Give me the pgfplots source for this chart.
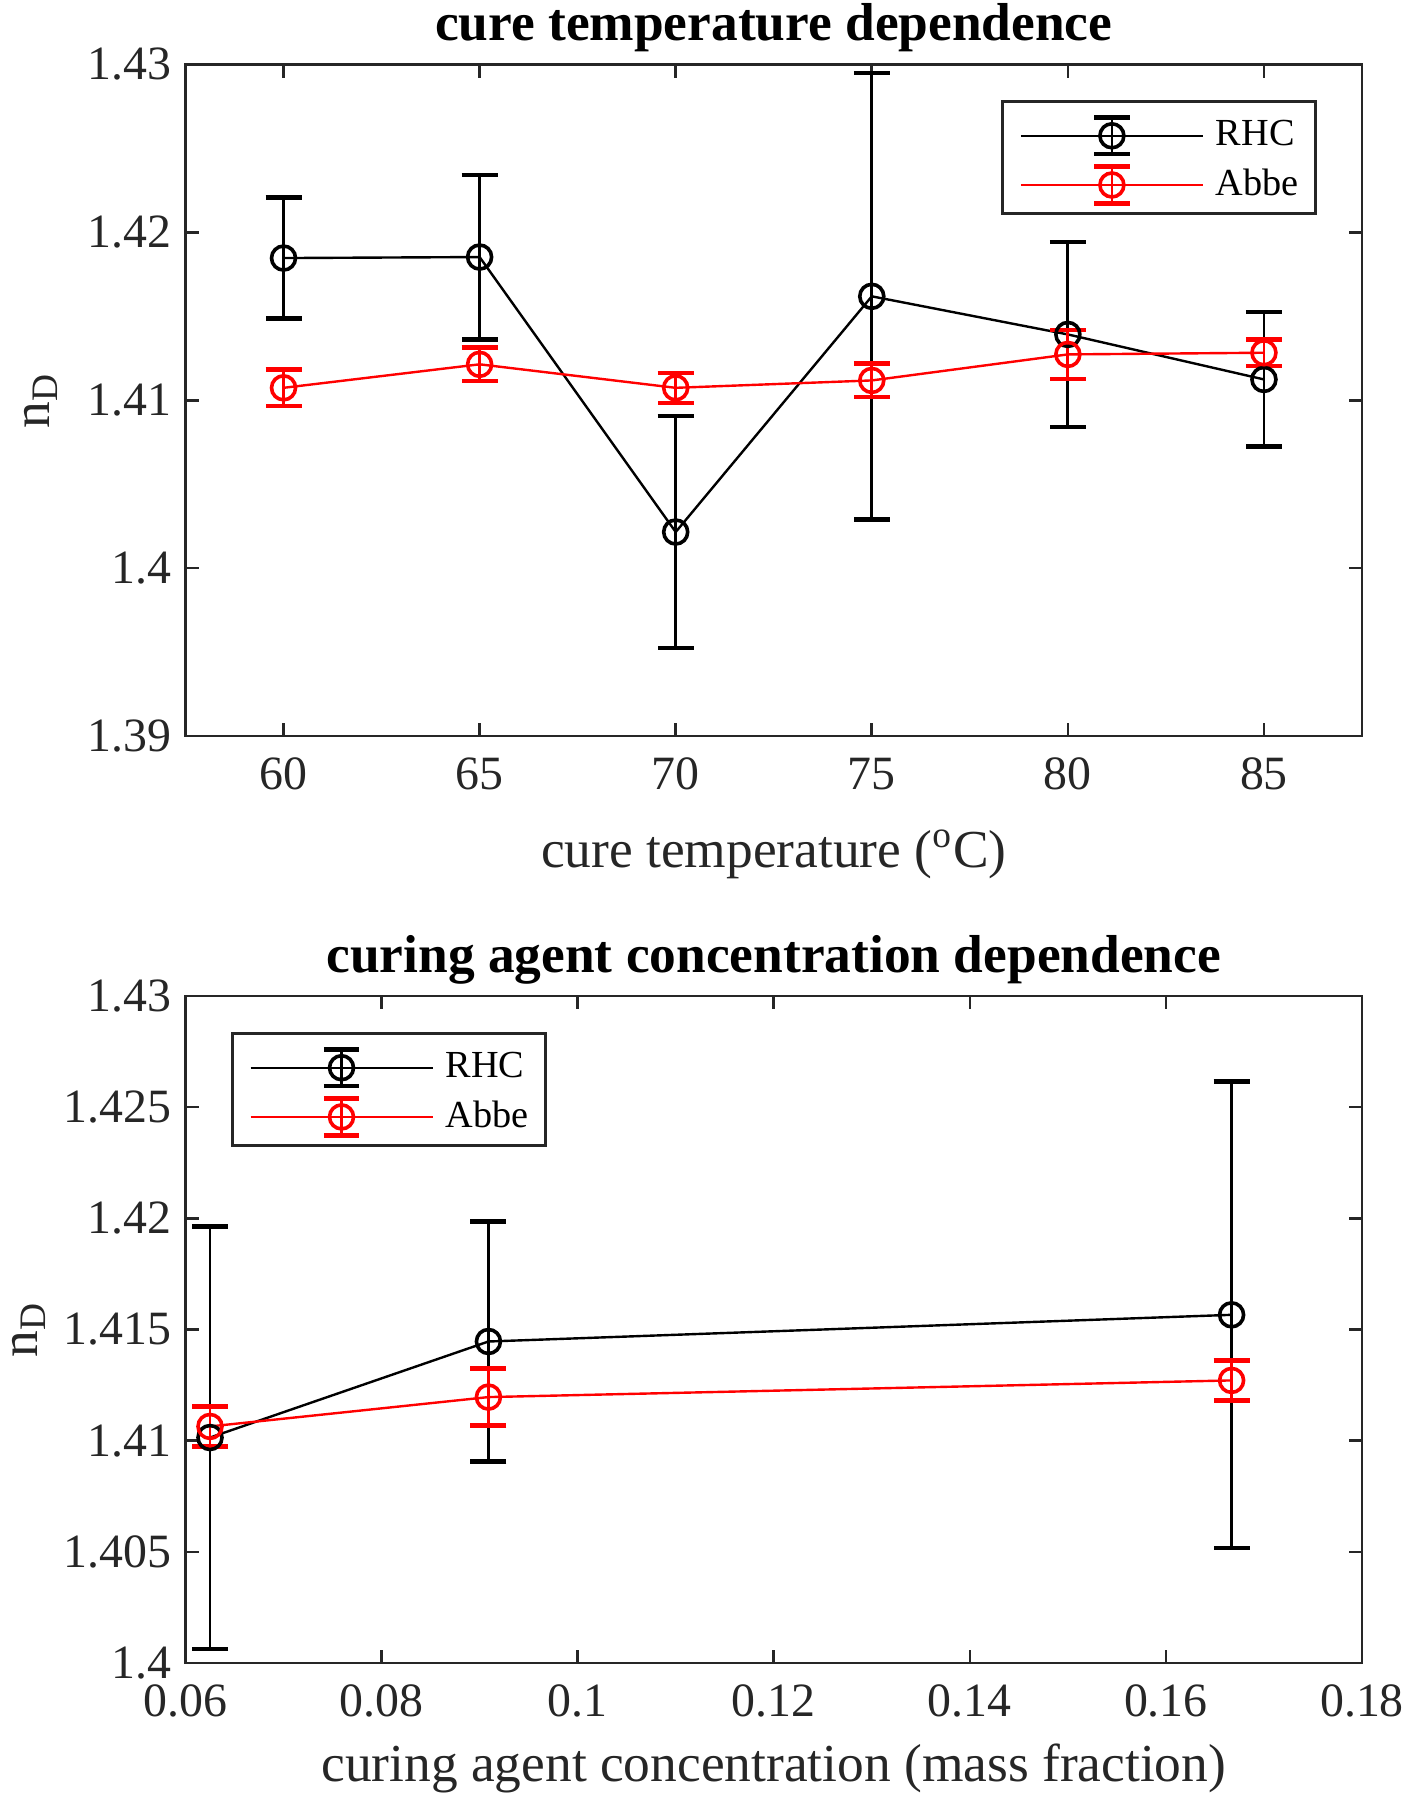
\documentclass[border=0pt]{standalone}
\usepackage{fontspec}
\setmainfont{Liberation Serif}
\usepackage{pgfplots}
\pgfplotsset{compat=1.18}
\definecolor{axgray}{gray}{0.15}
\pgfplotsset{
  myaxis/.style={
    scale only axis, width=294.125bp,
    axis line style={axgray, line width=0.65bp},
    every tick/.style={axgray, line width=0.65bp},
    major tick length=3.3bp,
    tick align=inside,
    xtick pos=both, ytick pos=both,
    ticklabel style={font=\fontsize{12}{14}\selectfont, text=axgray},
    /pgf/number format/assume math mode=true,
    /pgf/number format/.cd, fixed, precision=3, /pgfplots/.cd,
    scaled ticks=false,
    xticklabel style={yshift=-2bp},
    label style={font=\fontsize{13.4}{15}\selectfont, text=axgray},
    every axis title shift=0pt,
    title style={font=\bfseries\fontsize{13.4}{15}\selectfont, at={(axis description cs:0.5,1)}, anchor=base, yshift=6bp},
    legend cell align=left,
    legend style={draw=axgray, line width=0.65bp, font=\fontsize{9.6}{11}\selectfont,
      inner xsep=4.25bp, inner ysep=2.0bp, row sep=2.0bp, column sep=0bp,
      nodes={inner sep=0bp}, text=black},
  },
  rhc/.style={black, line width=0.6bp, mark=o, mark size=3bp,
    mark options={line width=0.9bp, solid},
    legend image code/.code={
      \path[draw=none, fill=none] (0bp,-4.6bp) rectangle (48.75bp,6.6bp);
      \draw[black, line width=0.6bp] (0bp,0bp) -- (45.5bp,0bp);
      \draw[black, line width=0.7bp] (22.75bp,-4.6bp) -- (22.75bp,4.6bp);
      \draw[black, line width=1.1bp] (18.35bp,-4.6bp) -- (27.15bp,-4.6bp) (18.35bp,4.6bp) -- (27.15bp,4.6bp);
      \draw[black, line width=0.9bp] (22.75bp,0bp) circle (3bp);
    },
    error bars/.cd, y dir=both, y explicit,
    error bar style={black, line width=0.7bp},
    error mark options={rotate=90, mark size=4.5bp, line width=1.1bp, black}},
  abbe/.style={red, line width=0.6bp, mark=o, mark size=3bp,
    mark options={line width=0.9bp, solid},
    legend image code/.code={
      \path[draw=none, fill=none] (0bp,-4.6bp) rectangle (48.75bp,4.6bp);
      \draw[red, line width=0.6bp] (0bp,0bp) -- (45.5bp,0bp);
      \draw[red, line width=0.7bp] (22.75bp,-4.6bp) -- (22.75bp,4.6bp);
      \draw[red, line width=1.1bp] (18.35bp,-4.6bp) -- (27.15bp,-4.6bp) (18.35bp,4.6bp) -- (27.15bp,4.6bp);
      \draw[red, line width=0.9bp] (22.75bp,0bp) circle (3bp);
    },
    error bars/.cd, y dir=both, y explicit,
    error bar style={red, line width=0.7bp},
    error mark options={rotate=90, mark size=4.5bp, line width=1.1bp, red}},
}
\begin{document}
\begin{tikzpicture}
\path[use as bounding box] (-46.375bp,-34.25bp) rectangle (305.625bp,415.75bp);
% top axis
\begin{axis}[myaxis, at={(0bp,231.75bp)}, anchor=south west,
  height=167.875bp,
  xmin=57.5, xmax=87.5, xtick={60,65,70,75,80,85},
  ymin=1.39, ymax=1.43, ytick={1.39,1.40,1.41,1.42,1.43},
  title={cure temperature dependence},
  xlabel={cure temperature (\textsuperscript{o}C)},
  xlabel style={at={(axis description cs:0.5,0)}, anchor=base, yshift=-33bp},
  ylabel={n\textsubscript{D}},
  ylabel style={at={(axis description cs:-0.123,0.5)}, anchor=center},
  legend style={at={(axis description cs:0.9618,0.947)}, anchor=north east},
]
\addplot+[rhc] coordinates {
  (60,1.41847) +- (0,0.0036)
  (65,1.41853) +- (0,0.0049)
  (70,1.40215) +- (0,0.0069)
  (75,1.41619) +- (0,0.0133)
  (80,1.41392) +- (0,0.0055)
  (85,1.41124) +- (0,0.0040)
};
\addlegendentry{RHC}
\addplot+[abbe] coordinates {
  (60,1.41074) +- (0,0.0011)
  (65,1.41214) +- (0,0.0010)
  (70,1.41074) +- (0,0.0009)
  (75,1.41118) +- (0,0.0010)
  (80,1.41273) +- (0,0.00145)
  (85,1.41283) +- (0,0.0008)
};
\addlegendentry{Abbe}
\end{axis}
% bottom axis
\begin{axis}[myaxis, at={(0bp,0bp)}, anchor=south west,
  height=166.75bp,
  xmin=0.06, xmax=0.18, xtick={0.06,0.08,0.1,0.12,0.14,0.16,0.18},
  ymin=1.40, ymax=1.43, ytick={1.4,1.405,1.41,1.415,1.42,1.425,1.43},
  title={curing agent concentration dependence},
  xlabel={curing agent concentration (mass fraction)},
  xlabel style={at={(axis description cs:0.5,0)}, anchor=base, yshift=-29.75bp},
  ylabel={n\textsubscript{D}},
  ylabel style={at={(axis description cs:-0.133,0.5)}, anchor=center},
  legend style={at={(axis description cs:0.0387,0.946)}, anchor=north west},
]
\addplot+[rhc] coordinates {
  (0.0625,1.41014) +- (0,0.0095)
  (0.0909,1.41446) +- (0,0.0054)
  (0.1667,1.41566) +- (0,0.0105)
};
\addlegendentry{RHC}
\addplot+[abbe] coordinates {
  (0.0625,1.41064) +- (0,0.0009)
  (0.0909,1.41196) +- (0,0.00128)
  (0.1667,1.41271) +- (0,0.0009)
};
\addlegendentry{Abbe}
\end{axis}
\end{tikzpicture}
\end{document}
